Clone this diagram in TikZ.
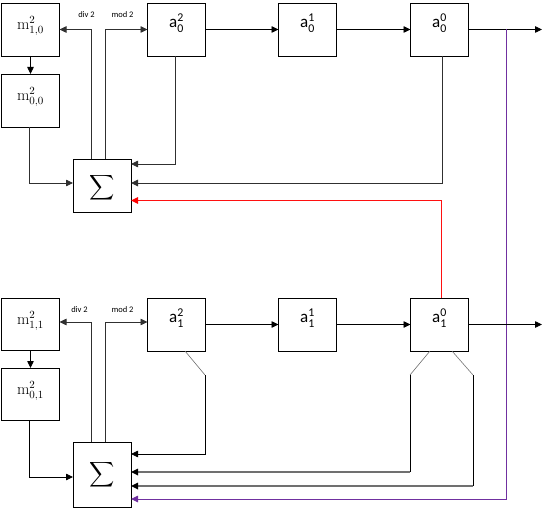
\documentclass[tikz,border=0pt]{standalone}
\usepackage{amsmath}
\usepackage{fontspec}
\newfontfamily\carl{Carlito}
\usetikzlibrary{arrows.meta,calc}
\definecolor{pur}{HTML}{7030A0}
\definecolor{gr}{HTML}{707070}
\definecolor{dk}{HTML}{303030}
\definecolor{rd}{HTML}{FF1010}
\begin{document}
\begin{tikzpicture}[x=1pt,y=-1pt,
  blk/.style={draw=black,line width=0.8pt,minimum width=58pt,inner sep=0pt,outer sep=0pt},
  lbl/.style={inner sep=0pt,font=\fontsize{16}{18}\selectfont},
  alb/.style={inner sep=0pt,font=\carl\fontsize{17}{19}\selectfont},
  sml/.style={inner sep=0pt,font=\carl\fontsize{8.5}{9}\selectfont},
  tip/.style={-{Triangle[length=7pt,width=6.5pt]}},
  tipk/.style={-{Triangle[length=7pt,width=6.5pt,color=black]}},
  con/.style={tip,line width=0.8pt,color=black},
  cong/.style={tipk,line width=1.6pt,draw=gr},
  ]
\useasboundingbox (0,0) rectangle (554,513);
% top row boxes
\node[blk,minimum height=53pt] (m10) at (30.5,29.5) {};
\node[blk,minimum height=53pt] (m00) at (30.5,100.5) {};
\node[blk,minimum height=53pt] (S0) at (102,185.5) {};
\node[blk,minimum height=53pt] (a02) at (176.5,29.5) {};
\node[blk,minimum height=53pt] (a01) at (307.5,29.5) {};
\node[blk,minimum height=53pt] (a00) at (439.5,29.5) {};
% bottom row boxes
\node[blk,minimum height=52pt] (m11) at (30.5,324) {};
\node[blk,minimum height=52pt] (m01) at (30.5,394) {};
\node[blk,minimum height=65pt] (S1) at (102,474.5) {};
\node[blk,minimum height=53pt] (a12) at (176.5,324.5) {};
\node[blk,minimum height=53pt] (a11) at (307.5,324.5) {};
\node[blk,minimum height=53pt] (a10) at (439.5,324.5) {};
% labels
\node[lbl] (tm10) at (30.5,26) {$\mathrm{m}^{2}_{1,0}$};
\node[lbl] (tm00) at (30.5,97) {$\mathrm{m}^{2}_{0,0}$};
\node[lbl] (tm11) at (30.5,321) {$\mathrm{m}^{2}_{1,1}$};
\node[lbl] (tm01) at (30.5,391) {$\mathrm{m}^{2}_{0,1}$};
\node[alb] (ta02) at (176.5,23) {a$^{\text{2}}_{\text{0}}$};
\node[alb] (ta01) at (307.5,23) {a$^{\text{1}}_{\text{0}}$};
\node[alb] (ta00) at (439.5,23) {a$^{\text{0}}_{\text{0}}$};
\node[alb] (ta12) at (176.5,318) {a$^{\text{2}}_{\text{1}}$};
\node[alb] (ta11) at (307.5,318) {a$^{\text{1}}_{\text{1}}$};
\node[alb] (ta10) at (439.5,318) {a$^{\text{0}}_{\text{1}}$};
\node[inner sep=0pt,scale=1.75] (tS0) at (102,188) {$\displaystyle\sum$};
\node[inner sep=0pt,scale=1.75] (tS1) at (102,475) {$\displaystyle\sum$};
\node[sml] (d0) at (86.5,15) {div 2};
\node[sml] (o0) at (122.5,15) {mod 2};
\node[sml] (d1) at (79.5,309.5) {div 2};
\node[sml] (o1) at (122.5,309.5) {mod 2};
% helper coordinates
\coordinate (xd) at (91,0);
\coordinate (xm) at (105,0);
\coordinate (out0) at (542,29.5);
\coordinate (out1) at (542,324.5);
\coordinate (pj) at (506,29.5);
% top connectors
\draw[con,color=dk] (S0.north -| xd) |- (m10.east);
\draw[con,color=dk] (S0.north -| xm) |- (a02.west);
\draw[con] (a02) -- (a01);
\draw[con] (a01) -- (a00);
\draw[con] (a00.east) -- (out0);
\draw[con] (m10) -- (m00);
\draw[con,color=dk] ($(m00.south)+(-1.5,0)$) |- ($(S0.west)+(0,-2.5)$);
\draw[con,color=dk] ($(a02.south)+(-1.5,0)$) |- ($(S0.north east)+(0,5)$);
\draw[con,color=dk,line width=0.9pt] ($(a00.south)+(2.5,0)$) |- ($(S0.west -| S0.east)+(0,-2.5)$);
\draw[-{Triangle[length=7pt,width=6.5pt,color=red]},line width=1.1pt,draw=rd] ($(a10.north)+(2,0)$) |- ($(S0.east)+(0,15)$);
\draw[-{Triangle[length=7pt,width=6.5pt,color=pur]},line width=0.9pt,draw=pur] (pj) |- ($(S1.east)+(0,24.5)$);
% bottom connectors
\draw[con,color=dk] (S1.north -| xd) |- ($(m11.east)+(0,-2)$);
\draw[con,color=dk] (S1.north -| xm) |- ($(a12.west)+(0,-2.5)$);
\draw[con] (a12) -- (a11);
\draw[con] (a11) -- (a10);
\draw[con] (a10.east) -- (out1);
\draw[con] (m11) -- (m01);
\draw[con] ($(m01.south)+(-1.5,0)$) |- ($(S1.west)+(0,2.5)$);
\coordinate (g1) at ($(a12.south)+(8.5,0)$);
\coordinate (g2) at (205,375);
\draw[line width=0.6pt,draw=gr] (g1) -- (g2);
\draw[con] (g2) |- ($(S1.east)+(0,-20.5)$);
\coordinate (h1) at ($(a10.south)+(-9.5,0)$);
\coordinate (h2) at (410,375);
\coordinate (h3) at ($(h2 |- S1.east)+(0,-2.5)$);
\draw[line width=0.6pt,draw=gr] (h1) -- (h2);
\draw[line width=0.8pt] (h2) -- (h3);
\draw[cong] (h3) -- ($(S1.east)+(0,-2.5)$);
\coordinate (k1) at ($(a10.south)+(12.5,0)$);
\coordinate (k2) at (473,375);
\coordinate (k3) at ($(k2 |- S1.east)+(0,11.5)$);
\draw[line width=0.6pt,draw=gr] (k1) -- (k2);
\draw[line width=0.8pt] (k2) -- (k3);
\draw[cong] (k3) -- ($(S1.east)+(0,11.5)$);
\end{tikzpicture}
\end{document}
